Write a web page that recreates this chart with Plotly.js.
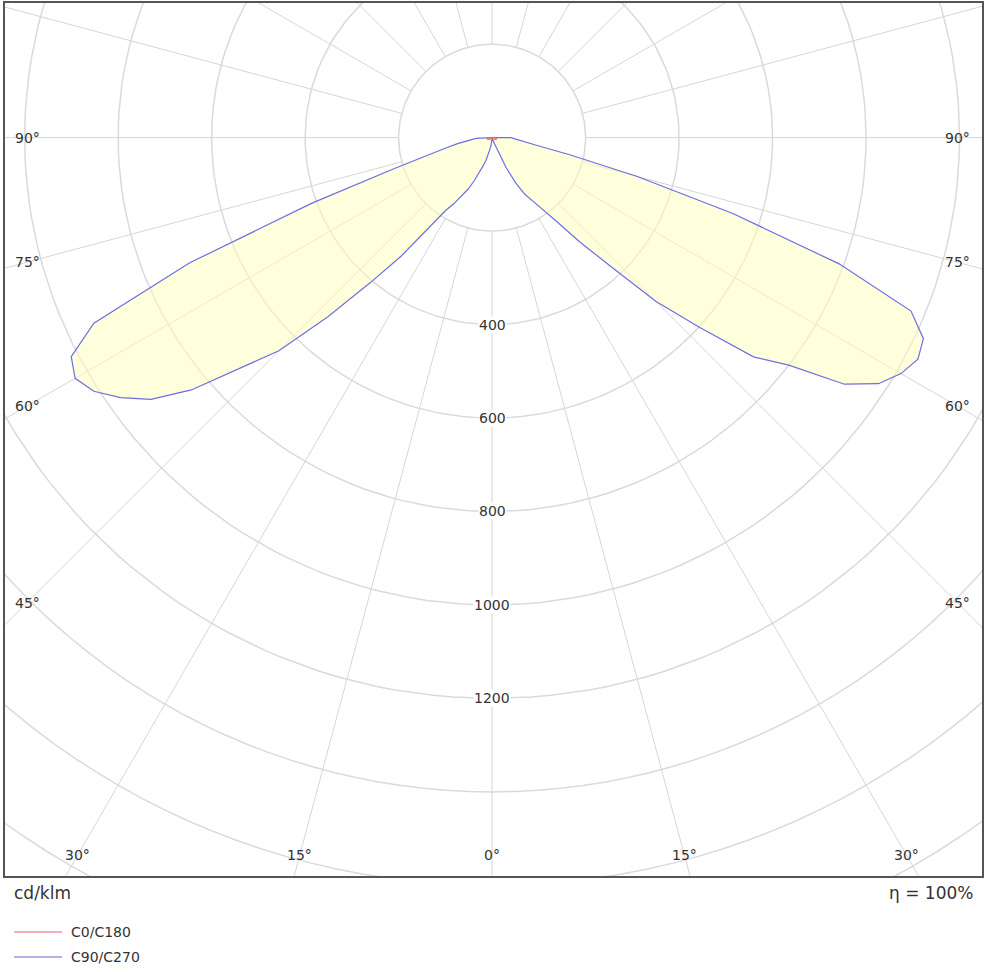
<!DOCTYPE html>
<html>
<head>
<meta charset="utf-8">
<script src="https://cdn.plot.ly/plotly-3.0.1.min.js"></script>
<style>
  body { margin: 0; background: #fff; }
  #chart { width: 1000px; height: 972px; }
</style>
</head>
<body>
<div id="chart"></div>
<script>
// gamma angles (deg from nadir), 180 closes the curve at the centre
var gammaDeg = [0, 2.5, 5, 7.5, 10, 12.5, 15, 17.5, 20, 22.5, 25, 27.5, 30, 32.5, 35, 37.5,
  40, 42.5, 45, 47.5, 50, 52.5, 55, 57.5, 60, 62.5, 65, 67.5, 70, 72.5, 75, 77.5,
  80, 82.5, 85, 87.5, 90, 180];

// cd/klm
var c270 = [2, 4, 8, 15, 24, 37, 50, 63, 80, 100, 122, 142, 163, 185, 230, 320,
  405, 520, 645, 730, 840, 920, 970, 1010, 1030, 1015, 940, 700, 410, 215, 140, 100,
  75, 55, 42, 35, 30, 0];
var c90 = [2, 2, 3, 3, 4, 5, 6, 8, 12, 25, 70, 110, 140, 160, 185, 225,
  290, 370, 495, 600, 730, 800, 920, 980, 1010, 1027, 1018, 970, 790, 540, 320, 170,
  100, 75, 60, 48, 40, 0];
var c180 = [1, 1, 1, 1, 1, 1, 1, 1, 1, 2, 2, 2, 2, 3, 3, 3,
  4, 4, 5, 5, 6, 6, 7, 8, 8, 9, 10, 10, 11, 11, 11, 11,
  10, 10, 9, 8, 7, 0];
var c0 = [1, 1, 1, 1, 1, 1, 1, 1, 1, 2, 2, 2, 2, 3, 3, 3,
  4, 4, 5, 5, 6, 6, 7, 8, 8, 9, 10, 10, 11, 11, 11, 11,
  10, 10, 9, 8, 7, 0];

var ringValues = [200, 400, 600, 800, 1000, 1200, 1400, 1600, 1800];
var ringLabels = [400, 600, 800, 1000, 1200];
var spokeStep = 15;
var sideAngles = [45, 60, 75, 90];
var bottomAngles = [0, 15, 30];

var xRange = [-1042, 1048];
var yRange = [-1580, 288];
var rad = Math.PI / 180;

// left half runs 180 -> 0, right half runs 0 -> 180
function curve(leftVals, rightVals) {
  var x = [], y = [];
  for (var i = gammaDeg.length - 1; i >= 0; i--) {
    x.push(-leftVals[i] * Math.sin(gammaDeg[i] * rad));
    y.push(-leftVals[i] * Math.cos(gammaDeg[i] * rad));
  }
  for (var j = 0; j < gammaDeg.length; j++) {
    x.push(rightVals[j] * Math.sin(gammaDeg[j] * rad));
    y.push(-rightVals[j] * Math.cos(gammaDeg[j] * rad));
  }
  return {x: x, y: y};
}

// grid rings
var rx = [], ry = [];
ringValues.forEach(function (r) {
  for (var a = 0; a <= 360; a += 2) {
    rx.push(r * Math.sin(a * rad));
    ry.push(-r * Math.cos(a * rad));
  }
  rx.push(null); ry.push(null);
});

// spokes start at the first ring
var sx = [], sy = [];
for (var a = 0; a < 360; a += spokeStep) {
  sx.push(ringValues[0] * Math.sin(a * rad), 3000 * Math.sin(a * rad), null);
  sy.push(-ringValues[0] * Math.cos(a * rad), -3000 * Math.cos(a * rad), null);
}

var blue = curve(c270, c90);
var red = curve(c180, c0);

var data = [
  {x: rx, y: ry, mode: 'lines', line: {color: '#dadada', width: 1.5}, hoverinfo: 'skip'},
  {x: sx, y: sy, mode: 'lines', line: {color: '#d6d6d6', width: 1}, hoverinfo: 'skip'},
  {x: blue.x, y: blue.y, mode: 'lines', fill: 'toself', fillcolor: 'rgba(255,255,185,0.5)',
    line: {color: 'rgb(110,110,225)', width: 1.2}, name: 'C90/C270'},
  {x: red.x, y: red.y, mode: 'lines', fill: 'toself', fillcolor: 'rgba(240,130,90,0.6)',
    line: {color: 'rgb(235,100,100)', width: 1}, name: 'C0/C180'}
];

var font = {family: 'DejaVu Sans, Verdana, sans-serif', size: 14, color: '#333'};
var annotations = [];

ringLabels.forEach(function (v) {
  annotations.push({x: 0, y: -v, xref: 'x', yref: 'y', text: String(v), showarrow: false,
    font: font, bgcolor: '#fff', borderpad: 0});
});

// angle labels sit where each ray meets a line just inside the frame
var unitsPerPx = (xRange[1] - xRange[0]) / 977;
var sideX = Math.min(-xRange[0], xRange[1]) - 22 * unitsPerPx;
var bottomY = -yRange[0] - 21 * unitsPerPx;
sideAngles.forEach(function (g) {
  var yy = g === 90 ? 0 : -sideX / Math.tan(g * rad);
  [-1, 1].forEach(function (s) {
    annotations.push({x: s * sideX, y: yy, xref: 'x', yref: 'y', text: g + '°',
      showarrow: false, font: font});
  });
});
bottomAngles.forEach(function (g) {
  var sides = g === 0 ? [1] : [-1, 1];
  sides.forEach(function (s) {
    annotations.push({x: s * bottomY * Math.tan(g * rad), y: -bottomY, xref: 'x', yref: 'y',
      text: g + '°', showarrow: false, font: font});
  });
});

var bigFont = {family: font.family, size: 17, color: '#333'};
annotations.push({x: 0.0072, y: -0.0195, xref: 'paper', yref: 'paper', xanchor: 'left',
  yanchor: 'middle', text: 'cd/klm', showarrow: false, font: bigFont});
annotations.push({x: 0.993, y: -0.0195, xref: 'paper', yref: 'paper', xanchor: 'right',
  yanchor: 'middle', text: 'η = 100%', showarrow: false, font: bigFont});

// hand-made legend
var legendItems = [
  {name: 'C0/C180', color: 'rgb(240,150,160)', y: -0.0641},
  {name: 'C90/C270', color: 'rgb(150,150,230)', y: -0.0928}
];
var shapes = [];
legendItems.forEach(function (it) {
  shapes.push({type: 'line', xref: 'paper', yref: 'paper', x0: 0.0092, x1: 0.0583,
    y0: it.y, y1: it.y, line: {color: it.color, width: 1.5}});
  annotations.push({x: 0.0655, y: it.y, xref: 'paper', yref: 'paper', xanchor: 'left',
    yanchor: 'middle', text: it.name, showarrow: false, font: font});
});

var axis = {showgrid: false, zeroline: false, showticklabels: false, ticks: '',
  showline: true, mirror: true, linecolor: '#555', linewidth: 2, fixedrange: true};

var layout = {
  width: 1000, height: 972,
  margin: {l: 5, r: 18, t: 3, b: 96},
  paper_bgcolor: '#fff', plot_bgcolor: '#fff',
  showlegend: false,
  xaxis: Object.assign({range: xRange}, axis),
  yaxis: Object.assign({range: yRange}, axis),
  annotations: annotations,
  shapes: shapes
};

Plotly.newPlot('chart', data, layout, {displayModeBar: false, staticPlot: true});
</script>
</body>
</html>
